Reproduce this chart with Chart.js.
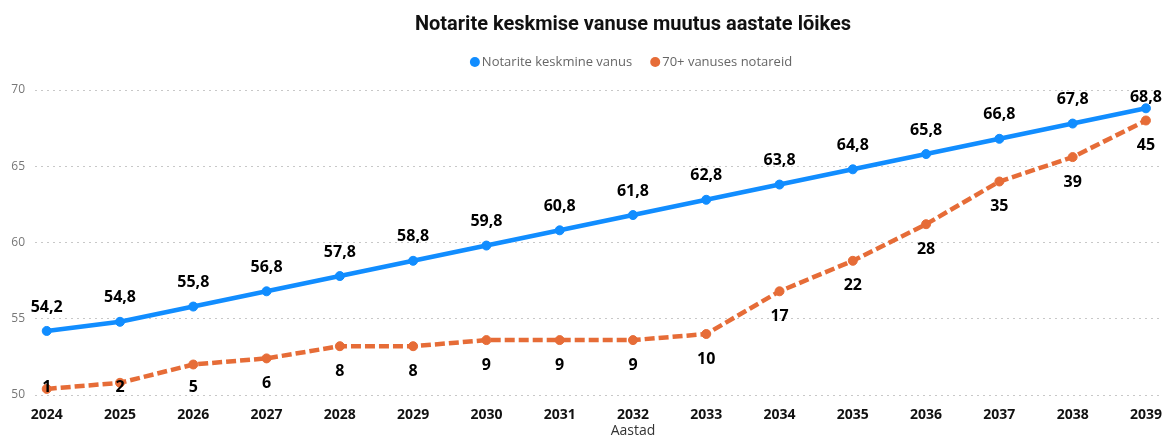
<!DOCTYPE html>
<html>
<head>
<meta charset="utf-8">
<script src="https://cdn.jsdelivr.net/npm/chart.js@4"></script>
<style>
html,body{margin:0;padding:0;background:#fff;}
#wrap{width:1166px;height:439px;position:relative;}
</style>
</head>
<body>
<div id="wrap"><canvas id="c" width="1166" height="439"></canvas></div>
<script>
const years = [2024,2025,2026,2027,2028,2029,2030,2031,2032,2033,2034,2035,2036,2037,2038,2039];
const avgAge = [54.2,54.8,55.8,56.8,57.8,58.8,59.8,60.8,61.8,62.8,63.8,64.8,65.8,66.8,67.8,68.8];
const over70 = [1,2,5,6,8,8,9,9,9,10,17,22,28,35,39,45];
const yTicks = [50,55,60,65,70];
const seriesNames = ['Notarite keskmine vanus','70+ vanuses notareid'];
const titleText = 'Notarite keskmise vanuse muutus aastate lõikes';
const xAxisTitle = 'Aastad';

const BLUE = '#118DFF', ORANGE = '#E66C37';

const headerPlugin = {
  id: 'header',
  afterDraw(chart) {
    const ctx = chart.ctx;
    ctx.save();
    ctx.textBaseline = 'middle';
    ctx.textAlign = 'center';
    ctx.fillStyle = '#111';
    ctx.font = 'bold 20px Roboto, sans-serif';
    ctx.fillText(titleText, 633, 25);
    // x axis title
    ctx.fillStyle = '#333';
    ctx.font = '14px "Open Sans", sans-serif';
    ctx.fillText(xAxisTitle, 633, 431);
    // legend
    ctx.font = '13px "Open Sans", sans-serif';
    ctx.textAlign = 'left';
    const colors = [BLUE, ORANGE];
    const w0 = ctx.measureText(seriesNames[0]).width;
    const w1 = ctx.measureText(seriesNames[1]).width;
    const gap = 18, dot = 12;
    const total = dot + w0 + gap + dot + w1;
    let x = 631 - total / 2;
    [w0, w1].forEach((w, i) => {
      ctx.fillStyle = colors[i];
      ctx.beginPath();
      ctx.arc(x + 5, 62, 5, 0, Math.PI * 2);
      ctx.fill();
      ctx.fillStyle = '#666';
      ctx.fillText(seriesNames[i], x + dot, 62.5);
      x += dot + w + gap;
    });
    ctx.restore();
  }
};

const labelPlugin = {
  id: 'pointLabels',
  afterDatasetsDraw(chart) {
    const ctx = chart.ctx;
    const area = chart.chartArea;
    ctx.save();
    ctx.font = 'bold 16px "Open Sans", sans-serif';
    ctx.fillStyle = '#000';
    ctx.textAlign = 'center';
    ctx.textBaseline = 'middle';
    chart.data.datasets.forEach((ds, di) => {
      const meta = chart.getDatasetMeta(di);
      meta.data.forEach((pt, i) => {
        const v = ds.data[i].y;
        let txt, y;
        if (di === 0) {
          txt = v.toFixed(1).replace('.', ',');
          y = Math.max(pt.y - 24, area.top + 7);
        } else {
          txt = String(v);
          y = Math.min(pt.y + 25, area.bottom - 8);
        }
        ctx.fillText(txt, pt.x, y);
      });
    });
    ctx.restore();
  }
};

new Chart(document.getElementById('c'), {
  type: 'line',
  data: {
    datasets: [
      {
        label: seriesNames[0],
        data: years.map((x, i) => ({x, y: avgAge[i]})),
        borderColor: BLUE, backgroundColor: BLUE,
        borderWidth: 4.5, pointRadius: 4.5, pointHoverRadius: 4.5, pointBorderWidth: 1,
        pointStyle: 'circle', yAxisID: 'y', tension: 0
      },
      {
        label: seriesNames[1],
        data: years.map((x, i) => ({x, y: over70[i]})),
        borderColor: ORANGE, backgroundColor: ORANGE,
        borderWidth: 4.5, borderDash: [10, 4], pointRadius: 4.5, pointHoverRadius: 4.5, pointBorderWidth: 1,
        pointStyle: 'circle', yAxisID: 'y1', tension: 0
      }
    ]
  },
  options: {
    responsive: false,
    animation: false,
    layout: { padding: { left: 0, right: 4, top: 90, bottom: 0 } },
    plugins: {
      title: { display: false },
      legend: { display: false },
      tooltip: { enabled: false }
    },
    scales: {
      x: {
        type: 'linear',
        min: 2023.84, max: 2039.18,
        afterBuildTicks: s => { s.ticks = years.map(v => ({value: v})); },
        afterFit: s => { s.height = 44; },
        ticks: {
          color: '#111', padding: 4,
          font: { family: '"Open Sans", sans-serif', weight: 'bold', size: 14 },
          callback: v => String(v), maxRotation: 0, autoSkip: false
        },
        grid: { display: false },
        border: { display: false },
        title: { display: false }
      },
      y: {
        position: 'left',
        min: 50, max: 70,
        afterBuildTicks: s => { s.ticks = yTicks.map(v => ({value: v})); },
        afterFit: s => { s.width = 35; },
        ticks: {
          color: '#777', padding: 10,
          font: { family: '"Open Sans", sans-serif', size: 12 }
        },
        grid: { color: '#c8c8c8', lineWidth: 1, drawTicks: false },
        border: { display: false, dash: [2, 4] }
      },
      y1: {
        position: 'right', display: false,
        min: 0, max: 50
      }
    }
  },
  plugins: [labelPlugin, headerPlugin]
});
</script>
</body>
</html>
